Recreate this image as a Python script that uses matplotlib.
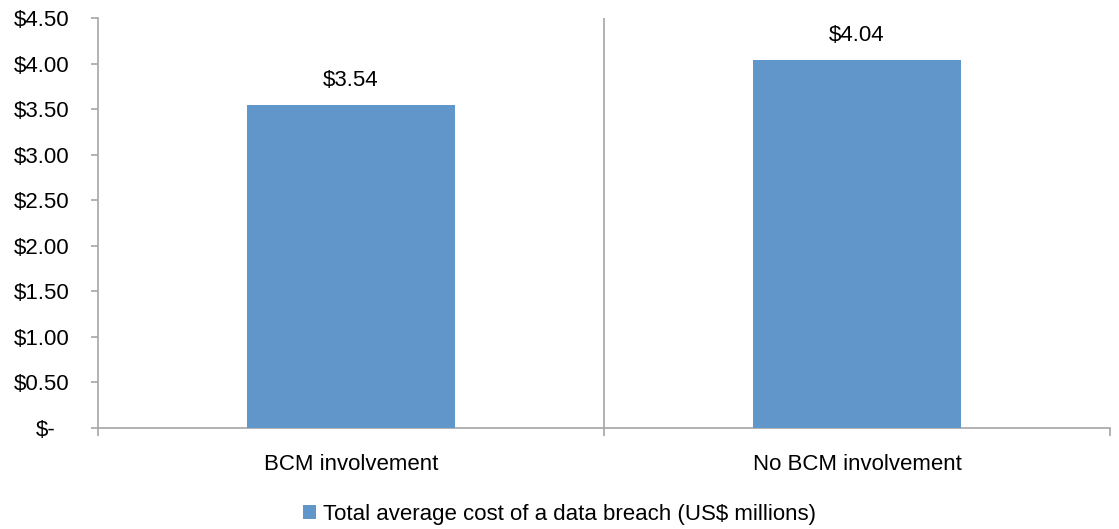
import matplotlib
matplotlib.use("Agg")
import matplotlib.pyplot as plt
import matplotlib.transforms as mtransforms
from matplotlib.patches import Patch

categories = ["BCM involvement", "No BCM involvement"]
values = [3.54, 4.04]
series_name = "Total average cost of a data breach (US$ millions)"
yticks = [0, 0.5, 1.0, 1.5, 2.0, 2.5, 3.0, 3.5, 4.0, 4.5]
ytick_labels = ["$-", "$0.50", "$1.00", "$1.50", "$2.00", "$2.50", "$3.00", "$3.50", "$4.00", "$4.50"]

plt.rcParams['font.family'] = ['Liberation Sans', 'DejaVu Sans']
bar_color = "#6096C9"
axis_color = "#A6A6A6"
FS = 16

fig = plt.figure(figsize=(11.19, 5.29), dpi=100)
ax = fig.add_axes([98/1119, 1 - 428/529, (1110-98)/1119, (428-18)/529])

x = list(range(len(categories)))
ax.bar(x, values, width=0.41, color=bar_color, zorder=3)
for xi, v in zip(x, values):
    ax.annotate(f"${v:.2f}", xy=(xi, v), xytext=(0, 13.7), textcoords="offset points",
                ha="center", va="baseline", fontsize=FS, color="black")

ax.set_xlim(-0.5, len(categories) - 0.5)
ax.set_ylim(0, 4.5)
ax.set_yticks(yticks)
ax.set_yticklabels(ytick_labels, fontsize=FS)
ax.set_xticks(x)
ax.set_xticklabels(categories, fontsize=FS)
ax.tick_params(axis="x", length=0, pad=18.5)
ax.tick_params(axis="y", length=5, width=1.2, color=axis_color, direction="out", pad=15.8)
ax.set_xticks([-0.5, 0.5, 1.5], minor=True)
ax.tick_params(axis="x", which="minor", length=6, color=axis_color, width=1.2, direction="out")

# accounting-style zero label sits further left
zero_lab = ax.get_yticklabels()[0]
zero_lab.set_transform(zero_lab.get_transform() +
                       mtransforms.ScaledTranslation(-10/72, 0, fig.dpi_scale_trans))

for s in ["top", "right"]:
    ax.spines[s].set_visible(False)
for s in ["left", "bottom"]:
    ax.spines[s].set_color(axis_color)
    ax.spines[s].set_linewidth(1.2)
ax.axvline(0.5, color=axis_color, lw=1.2, zorder=2)

handle = Patch(facecolor=bar_color, edgecolor="none")
fig.legend([handle], [series_name], loc="center", bbox_to_anchor=(0.5, 1 - 514.5/529),
           frameon=False, fontsize=FS, handlelength=0.6, handleheight=0.6,
           handletextpad=0.3, borderpad=0, borderaxespad=0)

fig.savefig("out.png", dpi=100)
